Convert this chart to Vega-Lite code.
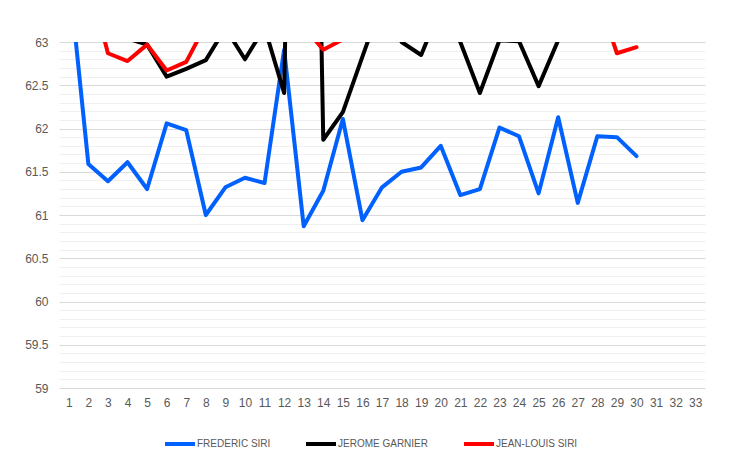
{
  "$schema": "https://vega.github.io/schema/vega-lite/v6.json",
  "width": 646,
  "height": 346,
  "autosize": {"type": "none"},
  "padding": {"left": 59, "top": 42, "right": 37, "bottom": 74},
  "background": "white",
  "config": {"view": {"stroke": null}, "font": "Liberation Sans"},
  "data": {"values": [
    {"x":1,"series":"FREDERIC SIRI","value":63.8},
    {"x":2,"series":"FREDERIC SIRI","value":61.59},
    {"x":3,"series":"FREDERIC SIRI","value":61.39},
    {"x":4,"series":"FREDERIC SIRI","value":61.61},
    {"x":5,"series":"FREDERIC SIRI","value":61.30},
    {"x":6,"series":"FREDERIC SIRI","value":62.06},
    {"x":7,"series":"FREDERIC SIRI","value":61.98},
    {"x":8,"series":"FREDERIC SIRI","value":61.00},
    {"x":9,"series":"FREDERIC SIRI","value":61.32},
    {"x":10,"series":"FREDERIC SIRI","value":61.43},
    {"x":11,"series":"FREDERIC SIRI","value":61.37},
    {"x":12,"series":"FREDERIC SIRI","value":62.91},
    {"x":13,"series":"FREDERIC SIRI","value":60.87},
    {"x":14,"series":"FREDERIC SIRI","value":61.28},
    {"x":15,"series":"FREDERIC SIRI","value":62.11},
    {"x":16,"series":"FREDERIC SIRI","value":60.94},
    {"x":17,"series":"FREDERIC SIRI","value":61.32},
    {"x":18,"series":"FREDERIC SIRI","value":61.50},
    {"x":19,"series":"FREDERIC SIRI","value":61.55},
    {"x":20,"series":"FREDERIC SIRI","value":61.80},
    {"x":21,"series":"FREDERIC SIRI","value":61.23},
    {"x":22,"series":"FREDERIC SIRI","value":61.30},
    {"x":23,"series":"FREDERIC SIRI","value":62.01},
    {"x":24,"series":"FREDERIC SIRI","value":61.91},
    {"x":25,"series":"FREDERIC SIRI","value":61.25},
    {"x":26,"series":"FREDERIC SIRI","value":62.13},
    {"x":27,"series":"FREDERIC SIRI","value":61.14},
    {"x":28,"series":"FREDERIC SIRI","value":61.91},
    {"x":29,"series":"FREDERIC SIRI","value":61.90},
    {"x":30,"series":"FREDERIC SIRI","value":61.68},
    {"x":1,"series":"JEROME GARNIER","value":63.5},
    {"x":2,"series":"JEROME GARNIER","value":63.4},
    {"x":3,"series":"JEROME GARNIER","value":63.2},
    {"x":4,"series":"JEROME GARNIER","value":63.04},
    {"x":5,"series":"JEROME GARNIER","value":62.97},
    {"x":6,"series":"JEROME GARNIER","value":62.60},
    {"x":7,"series":"JEROME GARNIER","value":62.69},
    {"x":8,"series":"JEROME GARNIER","value":62.79},
    {"x":9,"series":"JEROME GARNIER","value":63.16},
    {"x":10,"series":"JEROME GARNIER","value":62.80},
    {"x":11,"series":"JEROME GARNIER","value":63.17},
    {"x":12,"series":"JEROME GARNIER","value":62.41},
    {"x":13,"series":"JEROME GARNIER","value":74.0},
    {"x":14,"series":"JEROME GARNIER","value":61.87},
    {"x":15,"series":"JEROME GARNIER","value":62.19},
    {"x":16,"series":"JEROME GARNIER","value":62.83},
    {"x":17,"series":"JEROME GARNIER","value":63.47},
    {"x":18,"series":"JEROME GARNIER","value":63.0},
    {"x":19,"series":"JEROME GARNIER","value":62.85},
    {"x":20,"series":"JEROME GARNIER","value":63.4},
    {"x":21,"series":"JEROME GARNIER","value":63.0},
    {"x":22,"series":"JEROME GARNIER","value":62.41},
    {"x":23,"series":"JEROME GARNIER","value":63.02},
    {"x":24,"series":"JEROME GARNIER","value":63.01},
    {"x":25,"series":"JEROME GARNIER","value":62.49},
    {"x":26,"series":"JEROME GARNIER","value":63.02},
    {"x":27,"series":"JEROME GARNIER","value":63.4},
    {"x":28,"series":"JEROME GARNIER","value":63.3},
    {"x":29,"series":"JEROME GARNIER","value":63.5},
    {"x":30,"series":"JEROME GARNIER","value":63.3},
    {"x":1,"series":"JEAN-LOUIS SIRI","value":63.6},
    {"x":2,"series":"JEAN-LOUIS SIRI","value":63.74},
    {"x":3,"series":"JEAN-LOUIS SIRI","value":62.87},
    {"x":4,"series":"JEAN-LOUIS SIRI","value":62.78},
    {"x":5,"series":"JEAN-LOUIS SIRI","value":62.97},
    {"x":6,"series":"JEAN-LOUIS SIRI","value":62.67},
    {"x":7,"series":"JEAN-LOUIS SIRI","value":62.77},
    {"x":8,"series":"JEAN-LOUIS SIRI","value":63.2},
    {"x":9,"series":"JEAN-LOUIS SIRI","value":63.5},
    {"x":10,"series":"JEAN-LOUIS SIRI","value":63.4},
    {"x":11,"series":"JEAN-LOUIS SIRI","value":63.6},
    {"x":12,"series":"JEAN-LOUIS SIRI","value":63.5},
    {"x":13,"series":"JEAN-LOUIS SIRI","value":63.18},
    {"x":14,"series":"JEAN-LOUIS SIRI","value":62.91},
    {"x":15,"series":"JEAN-LOUIS SIRI","value":63.03},
    {"x":16,"series":"JEAN-LOUIS SIRI","value":63.3},
    {"x":17,"series":"JEAN-LOUIS SIRI","value":63.5},
    {"x":18,"series":"JEAN-LOUIS SIRI","value":63.4},
    {"x":19,"series":"JEAN-LOUIS SIRI","value":63.6},
    {"x":20,"series":"JEAN-LOUIS SIRI","value":63.5},
    {"x":21,"series":"JEAN-LOUIS SIRI","value":63.4},
    {"x":22,"series":"JEAN-LOUIS SIRI","value":63.3},
    {"x":23,"series":"JEAN-LOUIS SIRI","value":63.5},
    {"x":24,"series":"JEAN-LOUIS SIRI","value":63.6},
    {"x":25,"series":"JEAN-LOUIS SIRI","value":63.4},
    {"x":26,"series":"JEAN-LOUIS SIRI","value":63.5},
    {"x":27,"series":"JEAN-LOUIS SIRI","value":63.6},
    {"x":28,"series":"JEAN-LOUIS SIRI","value":63.55},
    {"x":29,"series":"JEAN-LOUIS SIRI","value":62.87},
    {"x":30,"series":"JEAN-LOUIS SIRI","value":62.94}
  ]},
  "encoding": {
    "x": {
      "field": "x", "type": "ordinal",
      "scale": {"type": "point", "padding": 0.5, "domain": [1,2,3,4,5,6,7,8,9,10,11,12,13,14,15,16,17,18,19,20,21,22,23,24,25,26,27,28,29,30,31,32,33]},
      "axis": {"title": null, "labelAngle": 0, "ticks": false, "domain": false, "grid": false, "labelPadding": 9, "labelFontSize": 12, "labelColor": "#595959"}
    }
  },
  "layer": [
    {
      "mark": {"type": "line", "opacity": 0, "clip": true},
      "encoding": {
        "y": {
          "field": "value", "type": "quantitative",
          "scale": {"domain": [59, 63], "nice": false, "zero": false},
          "axis": {"orient": "right", "title": null, "labels": false, "ticks": false, "domain": false, "grid": true, "gridColor": "#f0f0f0", "gridWidth": 1,
            "values": [59.1,59.2,59.3,59.4,59.6,59.7,59.8,59.9,60.1,60.2,60.3,60.4,60.6,60.7,60.8,60.9,61.1,61.2,61.3,61.4,61.6,61.7,61.8,61.9,62.1,62.2,62.3,62.4,62.6,62.7,62.8,62.9]}
        },
        "detail": {"field": "series"}
      }
    },
    {
      "mark": {"type": "line", "clip": true, "strokeWidth": 4, "strokeCap": "round", "strokeJoin": "round"},
      "encoding": {
        "y": {
          "field": "value", "type": "quantitative",
          "scale": {"domain": [59, 63], "nice": false, "zero": false},
          "axis": {"title": null, "ticks": false, "domain": false, "grid": true, "gridColor": "#d9d9d9", "gridWidth": 1, "labelPadding": 11, "labelFontSize": 12, "labelColor": "#595959", "format": "~g",
            "values": [59, 59.5, 60, 60.5, 61, 61.5, 62, 62.5, 63]}
        },
        "color": {
          "field": "series", "type": "nominal",
          "scale": {"domain": ["FREDERIC SIRI", "JEROME GARNIER", "JEAN-LOUIS SIRI"], "range": ["#0061fe", "#000000", "#ff0000"]},
          "legend": {"title": null, "orient": "none", "direction": "horizontal", "legendX": 104, "legendY": 385, "symbolType": "stroke", "symbolSize": 900, "symbolStrokeWidth": 4, "columnPadding": 27, "labelOffset": 0, "labelFontSize": 10, "labelFont": "Liberation Sans", "labelColor": "#595959"}
        }
      }
    }
  ],
  "resolve": {"axis": {"y": "independent"}}
}
